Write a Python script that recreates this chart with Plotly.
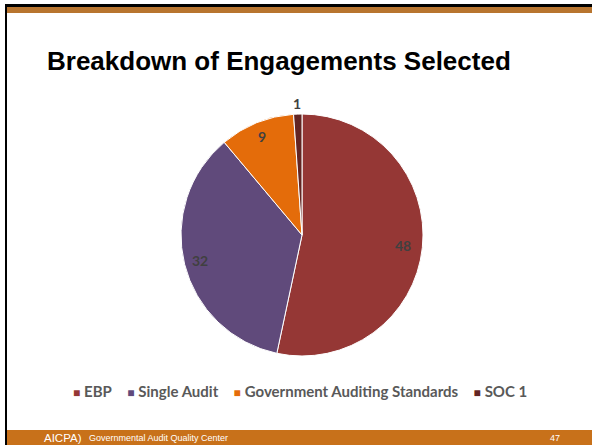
import math
import plotly.graph_objects as go

categories = ["EBP", "Single Audit", "Government Auditing Standards", "SOC 1"]
counts = [48, 32, 9, 1]
colors = ["#953735", "#604A7B", "#E46C0A", "#632523"]
label_radius = [0.84, 0.87, 0.88, 1.09]  # relative to pie radius (inside / outside labels)

W, H = 592, 445
# pie placement in pixels
CX, CY, R = 302, 235, 121


def px_x(v):
    return v / W


def px_y(v):
    return 1 - v / H


fig = go.Figure(go.Pie(
    labels=categories,
    values=counts,
    sort=False,
    direction="clockwise",
    rotation=0,
    marker=dict(colors=colors, line=dict(color="white", width=1)),
    textinfo="none",
    domain=dict(x=[px_x(CX - R), px_x(CX + R)], y=[px_y(CY + R), px_y(CY - R)]),
    hoverinfo="label+value",
    showlegend=False,
))

annotations = []
total = sum(counts)
cum = 0
for cat, v, rr in zip(categories, counts, label_radius):
    mid = (cum + v / 2) / total * 2 * math.pi
    cum += v
    lx = CX + rr * R * math.sin(mid)
    ly = CY - rr * R * math.cos(mid)
    annotations.append(dict(
        text=f"<b>{v}</b>", xref="paper", yref="paper",
        x=px_x(lx), y=px_y(ly), xanchor="center", yanchor="middle", showarrow=False,
        font=dict(family="Lato", size=14, color="#404040")))

# legend built as a single line of coloured squares and bold labels
legend_parts = [
    f"<span style='color:{c};font-size:12px'>■</span> <b>{cat}</b>" for cat, c in zip(categories, colors)
]
annotations.append(dict(
    text="    ".join(legend_parts), xref="paper", yref="paper",
    x=px_x(300), y=px_y(391), xanchor="center", yanchor="middle", showarrow=False,
    font=dict(family="Lato", size=15, color="#595959")))

shapes = [
    dict(type="rect", xref="paper", yref="paper", x0=px_x(5), x1=1, y0=px_y(7), y1=px_y(4),
         fillcolor="#000000", line=dict(width=0), layer="above"),
    dict(type="rect", xref="paper", yref="paper", x0=px_x(7), x1=1, y0=px_y(13), y1=px_y(7),
         fillcolor="#B8752F", line=dict(width=0), layer="above"),
    dict(type="rect", xref="paper", yref="paper", x0=px_x(5), x1=px_x(7), y0=0, y1=px_y(4),
         fillcolor="#000000", line=dict(width=0), layer="above"),
    dict(type="rect", xref="paper", yref="paper", x0=px_x(7), x1=1, y0=0, y1=px_y(430),
         fillcolor="#C8711A", line=dict(width=0), layer="below"),
]

annotations += [
    dict(text="<b>Breakdown of Engagements Selected</b>", xref="paper", yref="paper",
         x=px_x(45), y=px_y(61), xanchor="left", yanchor="middle", showarrow=False,
         font=dict(family="Liberation Sans", size=26, color="#000000")),
    dict(text="AICPA)", xref="paper", yref="paper",
         x=px_x(42), y=px_y(438), xanchor="left", yanchor="middle", showarrow=False,
         font=dict(family="Liberation Sans", size=11.5, color="#FFFFFF")),
    dict(text="Governmental Audit Quality Center", xref="paper", yref="paper",
         x=px_x(87), y=px_y(438), xanchor="left", yanchor="middle", showarrow=False,
         font=dict(family="Liberation Sans", size=9, color="#FFFFFF")),
    dict(text="47", xref="paper", yref="paper",
         x=px_x(555), y=px_y(438), xanchor="center", yanchor="middle", showarrow=False,
         font=dict(family="Liberation Sans", size=9, color="#FFFFFF")),
]

fig.update_layout(
    width=W, height=H,
    margin=dict(l=0, r=0, t=0, b=0),
    paper_bgcolor="white",
    plot_bgcolor="white",
    shapes=shapes,
    annotations=annotations,
    showlegend=False,
)

fig.write_html("out.html")
